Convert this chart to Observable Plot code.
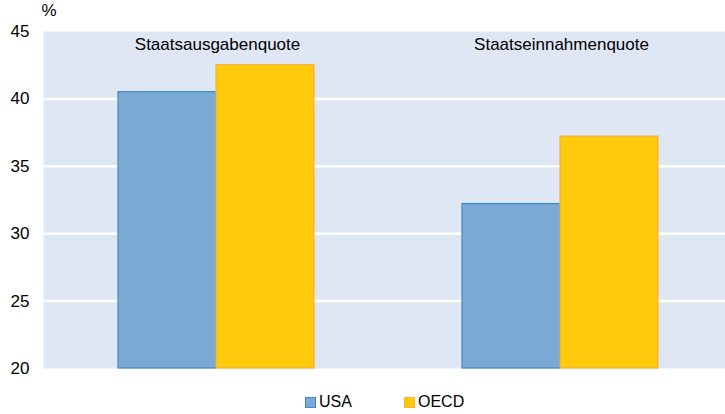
<!DOCTYPE html>
<html>
<head>
<meta charset="utf-8">
<script src="https://cdn.jsdelivr.net/npm/d3@7"></script>
<script src="https://cdn.jsdelivr.net/npm/@observablehq/plot@0.6"></script>
<style>
  body { margin: 0; background: #fff; font-family: "Liberation Sans", Arial, sans-serif; }
  #legend { position: relative; height: 34px; font-size: 16px; color: #000; }
  .item { position: absolute; top: 13px; display: flex; align-items: center; }
  .sw { width: 11px; height: 11px; margin-right: 3px; box-sizing: border-box; }
</style>
</head>
<body>
<div id="chart"></div>
<div id="legend"></div>
<script>
const groups = ["Staatsausgabenquote", "Staatseinnahmenquote"];
const series = ["USA", "OECD"];
const usaValues = [40.5, 32.2];
const oecdValues = [42.5, 37.2];
const yTicks = [20, 25, 30, 35, 40, 45];
const gridTicks = [25, 30, 35, 40];
const fills = {USA: "#7aaad4", OECD: "#ffc90c"};
const strokes = {USA: "#3c8ac8", OECD: "#f7b13a"};
const bg = "#dfe7f5";

const data = [];
groups.forEach((g, i) => {
  data.push({group: g, series: "USA", value: usaValues[i]});
  data.push({group: g, series: "OECD", value: oecdValues[i]});
});

const chart = Plot.plot({
  width: 725,
  height: 380,
  marginLeft: 43,
  marginRight: -7,
  marginTop: 31,
  marginBottom: 12,
  style: {fontFamily: "Liberation Sans, Arial, sans-serif", fontSize: "17px", color: "#000", background: "#fff"},
  fx: {domain: groups, padding: 0, axis: null},
  x: {domain: series, paddingInner: 0, paddingOuter: 0.742, axis: null},
  y: {domain: [20, 45], ticks: yTicks, tickSize: 0, tickPadding: 15, label: "%", labelArrow: "none", labelAnchor: "top", labelOffset: 3},
  marks: [
    Plot.frame({fill: bg, stroke: null, insetLeft: -1, insetRight: -1}),
    Plot.ruleY(gridTicks, {stroke: "#fff", strokeWidth: 2.5}),
    Plot.barY(data, {
      fx: "group", x: "series", y1: 20, y2: "value",
      fill: d => fills[d.series], stroke: d => strokes[d.series], strokeWidth: 1.2,
      insetLeft: 0, insetRight: 0
    }),
    Plot.text(groups, {fx: d => d, text: d => d, frameAnchor: "top", dy: 6, dx: 1, fontSize: 17, fill: "#000"})
  ]
});
document.getElementById("chart").appendChild(chart);

const legend = document.getElementById("legend");
const lefts = [305, 404];
series.forEach((s, i) => {
  const it = document.createElement("div");
  it.className = "item";
  it.style.left = lefts[i] + "px";
  const sw = document.createElement("div");
  sw.className = "sw";
  sw.style.background = fills[s];
  sw.style.border = "1px solid " + strokes[s];
  const t = document.createElement("span");
  t.textContent = s;
  it.appendChild(sw);
  it.appendChild(t);
  legend.appendChild(it);
});
</script>
</body>
</html>
